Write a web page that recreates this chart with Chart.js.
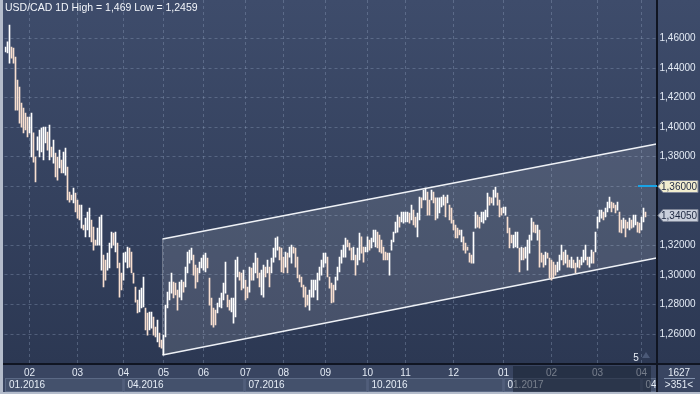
<!DOCTYPE html>
<html>
<head>
<meta charset="utf-8">
<script src="https://cdn.jsdelivr.net/npm/chart.js@4.4.1/dist/chart.umd.min.js"></script>
<style>
  html, body { margin: 0; padding: 0; background: #2e3a56; }
  canvas { display: block; }
</style>
</head>
<body>
<canvas id="usdcad" width="700" height="394"></canvas>
<script>
// daily high / low, USD/CAD, mid Jan 2016 .. early Apr 2017
const highs = [
  1.4543,1.4577,1.4692,1.4543,1.4536,1.4475,1.4319,1.4272,1.4164,1.4130,
  1.4096,1.4069,1.4069,1.4096,1.3961,1.3798,1.3934,1.3981,1.3994,1.4001,
  1.4001,1.3967,1.4015,1.3866,1.3913,1.3825,1.3798,1.3845,1.3778,1.3832,
  1.3859,1.3730,1.3561,1.3541,1.3588,1.3554,1.3507,1.3473,1.3473,1.3338,
  1.3385,1.3426,1.3453,1.3372,1.3324,1.3236,1.3317,1.3392,1.3405,1.3135,
  1.3101,1.3148,1.3216,1.3290,1.3284,1.3290,1.3216,1.3080,1.3013,1.3148,
  1.3155,1.3189,1.3182,1.3155,1.3013,1.2918,1.2830,1.2898,1.2911,1.2986,
  1.2776,1.2742,1.2749,1.2749,1.2715,1.2647,1.2695,1.2607,1.2559,1.2593,
  1.2796,1.2884,1.2952,1.3013,1.2952,1.2945,1.2898,1.2952,1.2965,1.2952,
  1.3053,1.3155,1.3168,1.3182,1.3135,1.3067,1.3047,1.3087,1.3114,1.3135,
  1.3148,1.3114,1.2979,1.2844,1.2776,1.2762,1.2810,1.2844,1.2877,1.2945,
  1.3087,1.2864,1.2830,1.2844,1.2844,1.3101,1.3121,1.3020,1.3013,1.3033,
  1.2965,1.2918,1.3053,1.3047,1.3080,1.3148,1.3114,1.3013,1.3033,1.3067,
  1.3053,1.3101,1.3053,1.3114,1.3182,1.3250,1.3257,1.3189,1.3182,1.3121,
  1.3155,1.3148,1.3189,1.3202,1.3189,1.3182,1.3121,1.2999,1.2986,1.2932,
  1.2918,1.2864,1.2898,1.2965,1.2965,1.2965,1.3013,1.3053,1.3101,1.3148,
  1.3148,1.3121,1.2986,1.2945,1.2932,1.2986,1.3053,1.3121,1.3168,1.3202,
  1.3250,1.3236,1.3216,1.3182,1.3189,1.3135,1.3182,1.3284,1.3257,1.3189,
  1.3189,1.3257,1.3236,1.3250,1.3304,1.3304,1.3290,1.3270,1.3236,1.3189,
  1.3155,1.3148,1.3148,1.3236,1.3290,1.3358,1.3405,1.3392,1.3426,1.3426,
  1.3426,1.3426,1.3419,1.3473,1.3439,1.3392,1.3419,1.3527,1.3521,1.3575,
  1.3588,1.3561,1.3507,1.3575,1.3561,1.3521,1.3521,1.3521,1.3527,1.3541,
  1.3527,1.3541,1.3473,1.3453,1.3372,1.3338,1.3317,1.3304,1.3304,1.3257,
  1.3216,1.3189,1.3148,1.3135,1.3290,1.3426,1.3405,1.3392,1.3426,1.3426,
  1.3439,1.3554,1.3527,1.3521,1.3575,1.3595,1.3554,1.3507,1.3453,1.3460,
  1.3460,1.3392,1.3317,1.3270,1.3270,1.3290,1.3290,1.3182,1.3189,1.3182,
  1.3189,1.3236,1.3270,1.3385,1.3358,1.3338,1.3338,1.3304,1.3148,1.3135,
  1.3155,1.3148,1.3114,1.3101,1.3087,1.3067,1.3087,1.3135,1.3202,1.3155,
  1.3168,1.3135,1.3101,1.3121,1.3101,1.3080,1.3121,1.3101,1.3121,1.3168,
  1.3202,1.3121,1.3121,1.3168,1.3155,1.3290,1.3392,1.3439,1.3439,1.3426,
  1.3453,1.3493,1.3527,1.3493,1.3487,1.3473,1.3493,1.3426,1.3372,1.3385,
  1.3372,1.3358,1.3385,1.3372,1.3405,1.3405,1.3358,1.3351,1.3392,1.3453,1.3426
];
const lows = [
  1.4509,1.4502,1.4434,1.4468,1.4434,1.4116,1.4116,1.4028,1.4001,1.3961,
  1.3981,1.3934,1.3961,1.3798,1.3764,1.3629,1.3845,1.3798,1.3832,1.3778,
  1.3893,1.3845,1.3778,1.3798,1.3757,1.3663,1.3642,1.3724,1.3690,1.3690,
  1.3676,1.3507,1.3493,1.3507,1.3487,1.3426,1.3385,1.3372,1.3317,1.3304,
  1.3257,1.3304,1.3257,1.3223,1.3168,1.3202,1.3202,1.3202,1.3033,1.2918,
  1.2965,1.3033,1.3047,1.3182,1.3202,1.3155,1.3047,1.2850,1.2898,1.2965,
  1.3087,1.3047,1.3053,1.3013,1.2945,1.2816,1.2742,1.2749,1.2776,1.2783,
  1.2627,1.2593,1.2627,1.2640,1.2593,1.2580,1.2546,1.2512,1.2505,1.2459,
  1.2580,1.2776,1.2830,1.2877,1.2844,1.2864,1.2762,1.2850,1.2830,1.2884,
  1.2918,1.3013,1.3080,1.3101,1.2999,1.2911,1.2952,1.3013,1.3047,1.3033,
  1.3020,1.3047,1.2796,1.2661,1.2647,1.2661,1.2742,1.2783,1.2776,1.2830,
  1.2877,1.2783,1.2762,1.2749,1.2674,1.2715,1.2986,1.2965,1.2898,1.2911,
  1.2830,1.2844,1.2884,1.2965,1.2965,1.3013,1.2979,1.2918,1.2864,1.2850,
  1.2986,1.3013,1.2918,1.3013,1.3087,1.3121,1.3168,1.3101,1.3020,1.3013,
  1.3053,1.3013,1.3121,1.3080,1.3148,1.3053,1.2979,1.2952,1.2918,1.2850,
  1.2783,1.2796,1.2762,1.2850,1.2850,1.2898,1.2830,1.2965,1.2999,1.3053,
  1.3080,1.2986,1.2911,1.2810,1.2816,1.2898,1.2965,1.3020,1.3080,1.3121,
  1.3121,1.3189,1.3168,1.3101,1.3101,1.2999,1.3067,1.3101,1.3148,1.3087,
  1.3155,1.3155,1.3168,1.3182,1.3223,1.3189,1.3182,1.3155,1.3148,1.3101,
  1.3101,1.3101,1.2999,1.3168,1.3223,1.3284,1.3290,1.3324,1.3358,1.3351,
  1.3358,1.3358,1.3351,1.3372,1.3338,1.3324,1.3257,1.3372,1.3453,1.3507,
  1.3507,1.3405,1.3405,1.3507,1.3487,1.3372,1.3385,1.3419,1.3460,1.3473,
  1.3392,1.3487,1.3372,1.3351,1.3304,1.3250,1.3250,1.3270,1.3223,1.3168,
  1.3148,1.3168,1.3087,1.3080,1.3080,1.3317,1.3324,1.3317,1.3358,1.3351,
  1.3372,1.3392,1.3473,1.3487,1.3473,1.3527,1.3473,1.3392,1.3405,1.3419,
  1.3405,1.3284,1.3182,1.3216,1.3182,1.3189,1.3182,1.3020,1.3101,1.3101,
  1.3114,1.3033,1.3148,1.3236,1.3290,1.3284,1.3236,1.3053,1.3087,1.3053,
  1.3067,1.3114,1.2979,1.2965,1.2979,1.2999,1.3020,1.3033,1.3101,1.3067,
  1.3080,1.3053,1.3053,1.3047,1.3047,1.3013,1.3053,1.3047,1.3067,1.3087,
  1.3101,1.3067,1.3053,1.3080,1.3080,1.3155,1.3317,1.3358,1.3385,1.3372,
  1.3392,1.3426,1.3453,1.3426,1.3453,1.3419,1.3439,1.3290,1.3284,1.3317,
  1.3257,1.3317,1.3304,1.3317,1.3324,1.3338,1.3290,1.3284,1.3304,1.3358,1.3392
];

const slotCount = 326;   // bar slots incl. empty space on the right
const monthTickIdx = [12, 36, 59, 79, 99, 120, 139, 160, 181, 200, 224, 249, 273, 296, 318];
const monthTickLbl = ['02','03','04','05','06','07','08','09','10','11','12','01','02','03','04'];
const quarterIdx = [0, 59, 120, 181, 249, 318];
const quarterLbl = ['01.2016', '04.2016', '07.2016', '10.2016', '01.2017', '04'];
const priceTicks = [1.26, 1.28, 1.30, 1.32, 1.34, 1.36, 1.38, 1.40, 1.42, 1.44, 1.46];

// trend channel drawn on the chart (slot index, price)
const channelX = [78.5, 325.5];
const channelUpper = [1.3243, 1.3886];
const channelLower = [1.2458, 1.3114];

const alertLevel = 1.36000;
const lastPrice = 1.34050;
const titleText = 'USD/CAD 1D High = 1,469 Low = 1,2459';
const FONT = '"Liberation Sans", Arial, sans-serif';

const fmt = v => v.toFixed(5).replace('.', ',');

const chartBg = {
  id: 'chartBg',
  beforeDraw(chart) {
    const { ctx, chartArea: a, scales: { x } } = chart;
    ctx.save();
    ctx.fillStyle = '#394561';
    ctx.fillRect(0, 0, 700, 394);
    const g = ctx.createLinearGradient(0, 0, 0, a.bottom);
    g.addColorStop(0, '#3e4c6b');
    g.addColorStop(1, '#2c3853');
    ctx.fillStyle = g;
    ctx.fillRect(0, 0, 700, a.bottom);

    // quarter boxes in the lower time row
    ctx.font = '10px ' + FONT;
    ctx.textBaseline = 'middle';
    for (let i = 0; i < quarterIdx.length; i++) {
      const x0 = i === 0 ? 5 : Math.round(x.getPixelForValue(quarterIdx[i])) - 0.5;
      const x1 = i + 1 < quarterIdx.length ? Math.round(x.getPixelForValue(quarterIdx[i + 1])) - 0.5 : 656.5;
      ctx.fillStyle = '#44516c';
      ctx.fillRect(x0, 378, x1 - x0, 13);
      ctx.strokeStyle = '#5b6985';
      ctx.lineWidth = 1;
      ctx.strokeRect(x0 + 0.5, 378.5, x1 - x0 - 1, 13);
      ctx.fillStyle = '#e6edf6';
      ctx.fillText(quarterLbl[i], x0 + 4, 385);
    }
    ctx.restore();
  },
  beforeDatasetsDraw(chart) {
    const { ctx, chartArea: a, scales: { x, y } } = chart;
    const xa = x.getPixelForValue(channelX[0]), xb = x.getPixelForValue(channelX[1]);
    const ua = y.getPixelForValue(channelUpper[0]), ub = y.getPixelForValue(channelUpper[1]);
    const la = y.getPixelForValue(channelLower[0]), lb = y.getPixelForValue(channelLower[1]);
    ctx.save();
    ctx.beginPath();
    ctx.rect(a.left, a.top, a.right - a.left, a.bottom - a.top);
    ctx.clip();
    ctx.beginPath();
    ctx.moveTo(xa, ua); ctx.lineTo(xb, ub); ctx.lineTo(xb, lb); ctx.lineTo(xa, la); ctx.closePath();
    ctx.fillStyle = 'rgba(255,255,255,0.12)';
    ctx.fill();
    ctx.strokeStyle = '#eef1f6';
    ctx.lineWidth = 1.5;
    ctx.beginPath(); ctx.moveTo(xa, ua); ctx.lineTo(xb, ub); ctx.stroke();
    ctx.beginPath(); ctx.moveTo(xa, la); ctx.lineTo(xb, lb); ctx.stroke();
    ctx.beginPath(); ctx.moveTo(xa, ua); ctx.lineTo(xa, la);
    ctx.strokeStyle = 'rgba(255,255,255,0.25)'; ctx.lineWidth = 1; ctx.stroke();
    ctx.restore();
  },
  afterDraw(chart) {
    const { ctx, scales: { y } } = chart;
    ctx.save();
    ctx.font = '10.5px ' + FONT;
    ctx.textBaseline = 'middle';
    ctx.fillStyle = '#f2f5fa';
    ctx.textAlign = 'left';
    ctx.fillText(titleText, 5, 8);
    ctx.font = '10px ' + FONT;

    // dimmed scroll window over the right end of the time axis
    ctx.fillStyle = 'rgba(24,32,50,0.55)';
    ctx.fillRect(513, 366, 138, 26);

    // frame lines
    ctx.fillStyle = '#101522';
    ctx.fillRect(3, 363, 697, 2);
    ctx.fillRect(656, 0, 2, 394);
    ctx.fillStyle = '#b4bccb';
    ctx.fillRect(0, 0, 3, 394);
    ctx.fillRect(0, 392, 700, 2);

    // alert level line + tags
    const ya = Math.round(y.getPixelForValue(alertLevel));
    ctx.fillStyle = '#19a3e6';
    ctx.fillRect(638, ya - 1, 19, 2);
    const tag = (val, bg) => {
      const yy = Math.round(y.getPixelForValue(val)) + 0.5;
      ctx.beginPath();
      ctx.moveTo(658, yy);
      ctx.lineTo(663, yy - 6);
      ctx.lineTo(698, yy - 6);
      ctx.lineTo(698, yy + 6);
      ctx.lineTo(663, yy + 6);
      ctx.closePath();
      ctx.fillStyle = bg;
      ctx.fill();
      ctx.strokeStyle = '#7f8698';
      ctx.lineWidth = 1;
      ctx.stroke();
      ctx.fillStyle = '#1c2740';
      ctx.textAlign = 'left';
      ctx.fillText(fmt(val), 661, yy + 0.5);
    };
    tag(alertLevel, '#f1edcf');
    tag(lastPrice, '#c9cfdb');

    // small markers
    ctx.fillStyle = '#e8eef6';
    ctx.textAlign = 'center';
    ctx.fillText('5', 636, 358);
    ctx.fillStyle = '#4b5977';
    ctx.beginPath(); ctx.moveTo(642, 358); ctx.lineTo(646, 352); ctx.lineTo(650, 358); ctx.closePath(); ctx.fill();

    // corner box
    ctx.fillStyle = '#e6edf6';
    ctx.fillText('1627', 679, 373);
    ctx.fillText('>351<', 679, 385);
    ctx.fillStyle = '#8392ad';
    ctx.fillRect(664, 378, 31, 1);
    ctx.restore();
  }
};

const barData = lows.map((lo, i) => [lo, highs[i]]);
const barColors = highs.map((h, i) => (i > 0 && h < highs[i - 1]) ? '#f8dfd0' : '#ffffff');

new Chart(document.getElementById('usdcad'), {
  type: 'bar',
  data: {
    labels: Array.from({ length: slotCount }, (_, i) => String(i)),
    datasets: [{
      data: barData,
      backgroundColor: barColors,
      borderWidth: 0,
      borderSkipped: false,
      barThickness: 1,
      grouped: false
    }]
  },
  options: {
    responsive: false,
    devicePixelRatio: 1,
    animation: false,
    layout: { autoPadding: false, padding: { left: 4.5, top: 0, right: 0, bottom: 0 } },
    plugins: { legend: { display: false }, tooltip: { enabled: false } },
    scales: {
      x: {
        afterBuildTicks: s => { s.ticks = monthTickIdx.map(v => ({ value: v })); },
        afterFit: s => { s.height = 30; s.paddingLeft = 0; s.paddingRight = 0; },
        grid: { offset: false, drawTicks: false, color: 'rgba(150,165,195,0.35)' },
        border: { display: false, dash: [3, 3] },
        ticks: {
          autoSkip: false,
          maxRotation: 0,
          padding: 3,
          color: '#e4ebf5',
          font: { family: FONT, size: 10 },
          callback: v => monthTickLbl[monthTickIdx.indexOf(v)]
        }
      },
      y: {
        position: 'right',
        min: 1.2397,
        max: 1.4861,
        afterBuildTicks: s => { s.ticks = priceTicks.map(v => ({ value: v })); },
        afterFit: s => { s.width = 43.5; s.paddingTop = 0; s.paddingBottom = 0; },
        grid: { drawTicks: false, color: 'rgba(150,165,195,0.35)' },
        border: { display: false, dash: [3, 3] },
        ticks: {
          padding: 3,
          color: '#e4ebf5',
          font: { family: FONT, size: 10 },
          callback: v => fmt(v)
        }
      }
    }
  },
  plugins: [chartBg]
});
</script>
</body>
</html>
